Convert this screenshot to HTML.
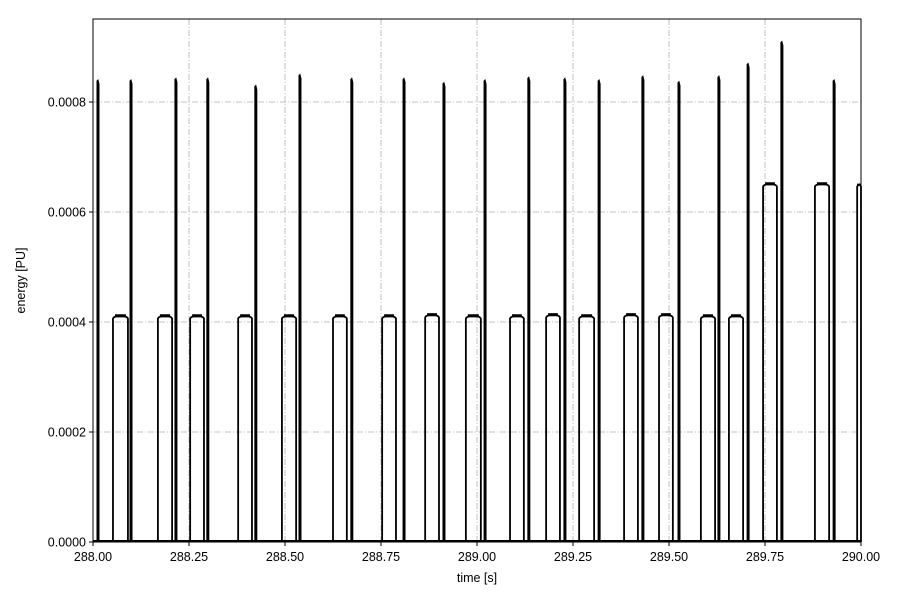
<!DOCTYPE html>
<html><head><meta charset="utf-8"><style>
body{margin:0;background:#fff;font-family:"Liberation Sans",sans-serif}
</style></head><body>
<svg id="c" width="900" height="600" xmlns="http://www.w3.org/2000/svg"></svg>
<script>
const xTicks=[288.00,288.25,288.50,288.75,289.00,289.25,289.50,289.75,290.00];
const yTicks=[0,0.0002,0.0004,0.0006,0.0008];
const boxStart=[288.052,288.169,288.253,288.378,288.492,288.625,288.753,288.865,288.971,289.086,289.180,289.266,289.383,289.474,289.583,289.656,289.745,289.880,289.990];
const boxEnd=[288.091,288.206,288.289,288.414,288.529,288.661,288.789,288.901,289.010,289.122,289.216,289.305,289.419,289.510,289.620,289.693,289.781,289.917,290.0];
const boxLevel=[0.00041,0.00041,0.00041,0.00041,0.00041,0.00041,0.00041,0.000412,0.00041,0.00041,0.000412,0.00041,0.000412,0.000412,0.00041,0.00041,0.00065,0.00065,0.00065];
const spikeTime=[288.013,288.099,288.216,288.299,288.424,288.539,288.674,288.810,288.914,289.021,289.135,289.229,289.318,289.432,289.526,289.630,289.706,289.794,289.930];
const spikePeak=[0.00084,0.00084,0.000843,0.000843,0.00083,0.00085,0.000843,0.000843,0.000835,0.00084,0.000845,0.000843,0.00084,0.000847,0.000837,0.000847,0.00087,0.00091,0.00084];
const X0=93,X1=861,Y0=542,Y1=19;
const sx=t=>X0+(t-288)/2*(X1-X0);
const sy=v=>Y0-v/0.0008*440;
const svg=document.getElementById('c');const NS='http://www.w3.org/2000/svg';
function mk(tag,at,txt){const e=document.createElementNS(NS,tag);for(const k in at)e.setAttribute(k,at[k]);if(txt!==undefined)e.textContent=txt;svg.appendChild(e);return e;}
let e=mk('rect',{x:X0,y:Y1,width:X1-X0,height:Y0-Y1,fill:'#fff'});


xTicks.forEach((t,i)=>{
 if(i>0&&i<xTicks.length-1){const g=mk('line',{x1:sx(t),x2:sx(t),y1:Y1,y2:Y0,stroke:'#b0b0b0','stroke-width':0.8,'stroke-dasharray':'6,2,1,2'});
 
 }
 const tk=mk('line',{x1:sx(t),x2:sx(t),y1:Y0,y2:Y0+4,stroke:'#000'});
 
 
 const l=mk('text',{x:sx(t),y:Y0+19,'text-anchor':'middle','font-size':12.5},t.toFixed(2));
 
 
});
yTicks.forEach((v,i)=>{
 if(i>0){const g=mk('line',{x1:X0,x2:X1,y1:sy(v),y2:sy(v),stroke:'#b0b0b0','stroke-width':0.8,'stroke-dasharray':'6,2,1,2'});
 
 }
 const tk=mk('line',{x1:X0-4,x2:X0,y1:sy(v),y2:sy(v),stroke:'#000'});
 
 
 const l=mk('text',{x:X0-7,y:sy(v)+4.5,'text-anchor':'end','font-size':12.5},v.toFixed(4));
 
 
});
let b=mk('line',{x1:X0,x2:X1,y1:Y0-1,y2:Y0-1,stroke:'#000','stroke-width':2});


boxStart.forEach((s,i)=>{
 const x1=sx(s),x2=sx(boxEnd[i]),y=sy(boxLevel[i]);
 const p=mk('path',{d:`M${x1},${Y0} L${x1},${y+2} Q${x1+1},${y} ${x1+4},${y} L${x2-4},${y} Q${x2-1},${y} ${x2},${y+2} L${x2},${Y0}`,fill:'none',stroke:'#000','stroke-width':1.8});
 
 
 const n=mk('line',{x1:x1+2,x2:x2-2,y1:y-1,y2:y-1,stroke:'#000','stroke-width':2.5});
 
 
});
spikeTime.forEach((t,i)=>{
 const x=sx(t),y=sy(spikePeak[i]);
 const p=mk('path',{d:`M${x-1},${Y0} L${x-1},${y+1} L${x},${y} L${x+1},${y+4} L${x+1},${Y0}`,fill:'#000',stroke:'#000','stroke-width':1});
 
 
});
let fr=mk('rect',{x:X0,y:Y1,width:X1-X0,height:Y0-Y1,fill:'none',stroke:'#000','stroke-width':1});


let xt=mk('text',{x:(X0+X1)/2,y:582,'text-anchor':'middle','font-size':12.5},'time [s]');


let yt=mk('text',{x:0,y:0,'text-anchor':'middle','font-size':12.5,transform:`translate(25,${(Y0+Y1)/2}) rotate(-90)`},'energy [PU]');


</script>
</body></html>
